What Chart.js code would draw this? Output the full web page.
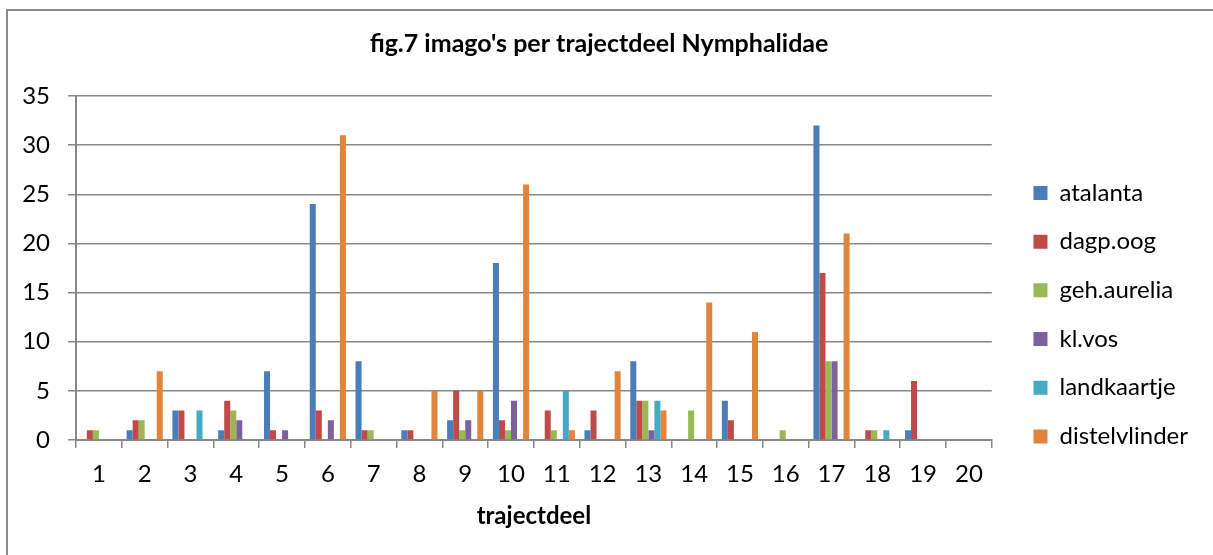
<!DOCTYPE html>
<html>
<head>
<meta charset="utf-8">
<script src="https://cdn.jsdelivr.net/npm/chart.js@4.4.1/dist/chart.umd.min.js"></script>
<style>
    html, body { margin: 0; padding: 0; background: #fff; overflow: hidden; }
    #wrap { position: relative; width: 1213px; height: 555px; overflow: hidden; }
    #grafico { position: absolute; left: -54px; top: 0; }
    #rand { position: absolute; left: 6px; top: 9px; width: 1400px; height: 800px; border: 2px solid #8a8a8a; pointer-events: none; }
</style>
</head>
<body>
<div id="wrap">
    <canvas id="grafico" width="1267" height="555"></canvas>
    <div id="rand"></div>
</div>
<script>
const trajectdelen = ['1', '2', '3', '4', '5', '6', '7', '8', '9', '10',
    '11', '12', '13', '14', '15', '16', '17', '18', '19', '20'];

const atalanta      = [0, 1, 3, 1, 7, 24, 8, 1, 2, 18, 0, 1, 8, 0, 4, 0, 32, 0, 1, 0];
const dagpoog       = [1, 2, 3, 4, 1, 3, 1, 1, 5, 2, 3, 3, 4, 0, 2, 0, 17, 1, 6, 0];
const gehaurelia    = [1, 2, 0, 3, 0, 0, 1, 0, 1, 1, 1, 0, 4, 3, 0, 1, 8, 1, 0, 0];
const klvos         = [0, 0, 0, 2, 1, 2, 0, 0, 2, 4, 0, 0, 1, 0, 0, 0, 8, 0, 0, 0];
const landkaartje   = [0, 0, 3, 0, 0, 0, 0, 0, 0, 0, 5, 0, 4, 0, 0, 0, 0, 1, 0, 0];
const distelvlinder = [0, 7, 0, 0, 0, 31, 0, 5, 5, 26, 1, 7, 3, 14, 11, 0, 21, 0, 0, 0];

const yTicks = [0, 5, 10, 15, 20, 25, 30, 35];

const grijs = '#878787';

Chart.defaults.font.family = 'Lato, "Open Sans", sans-serif';
Chart.defaults.color = '#000';

function serie(label, data, kleur) {
    return {
        label: label,
        data: data,
        backgroundColor: kleur,
        borderWidth: 0,
        categoryPercentage: 0.79,
        barPercentage: 1
    };
}

const ctx = document.getElementById('grafico');

const grafico = new Chart(ctx, {
    type: 'bar',
    data: {
        labels: trajectdelen,
        datasets: [
            serie('atalanta', atalanta, '#4A7EBB'),
            serie('dagp.oog', dagpoog, '#BE4B48'),
            serie('geh.aurelia', gehaurelia, '#98B954'),
            serie('kl.vos', klvos, '#7D60A0'),
            serie('landkaartje', landkaartje, '#46AAC5'),
            serie('distelvlinder', distelvlinder, '#E0853E')
        ]
    },
    options: {
        responsive: false,
        animation: false,
        devicePixelRatio: 1,
        layout: {
            padding: { left: 54, right: 15, top: 0, bottom: 0 }
        },
        plugins: {
            title: {
                display: true,
                text: "fig.7 imago's per trajectdeel Nymphalidae",
                font: { size: 25, weight: 'bold' },
                padding: { top: 29, bottom: 37 }
            },
            legend: {
                position: 'right',
                align: 'center',
                title: {
                    display: true,
                    text: '',
                    font: { size: 12 },
                    padding: { top: 60, bottom: 0 }
                },
                labels: {
                    boxWidth: 14,
                    boxHeight: 14,
                    padding: 24.7,
                    font: { size: 24 }
                }
            },
            tooltip: { enabled: false }
        },
        scales: {
            x: {
                offset: true,
                grid: {
                    offset: true,
                    drawOnChartArea: false,
                    color: grijs,
                    lineWidth: 1.5,
                    tickLength: 8
                },
                border: { color: grijs, width: 2 },
                ticks: {
                    font: { size: 24 },
                    padding: 11.6,
                    maxRotation: 0
                },
                title: {
                    display: true,
                    text: 'trajectdeel',
                    font: { size: 24, weight: 'bold' },
                    padding: { top: 1.6, bottom: 24.6 }
                }
            },
            y: {
                min: 0,
                max: 35,
                afterFit(scale) {
                    scale.width = 76;
                },
                afterBuildTicks(scale) {
                    scale.ticks = yTicks.map(v => ({ value: v }));
                },
                grid: {
                    color: grijs,
                    lineWidth: 1.5,
                    tickLength: 8
                },
                border: { color: grijs, width: 2 },
                ticks: {
                    font: { size: 24 },
                    padding: 18
                }
            },
            // lege as rechts: ruimte tussen plotgebied en legenda
            ruimte: {
                type: 'linear',
                position: 'right',
                display: true,
                grid: { display: false },
                border: { display: false },
                ticks: { display: false },
                afterFit(scale) {
                    scale.width = 17;
                }
            }
        }
    }
});
</script>
</body>
</html>
